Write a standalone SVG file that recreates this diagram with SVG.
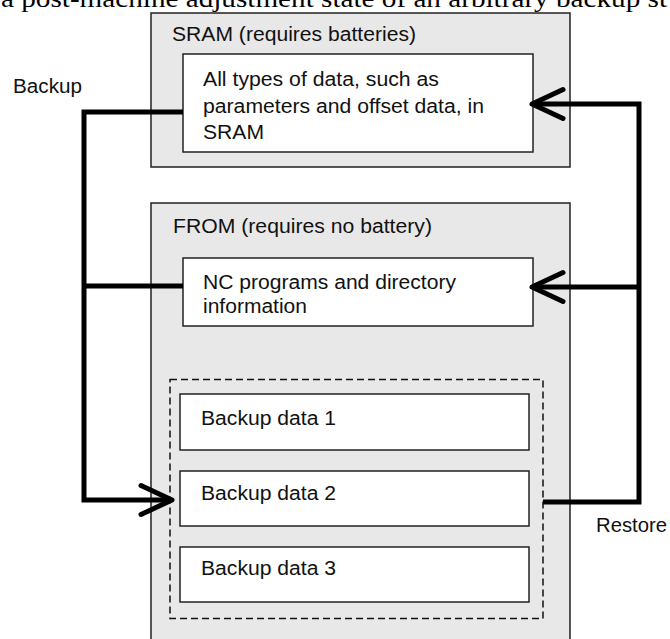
<svg xmlns="http://www.w3.org/2000/svg" width="670" height="639" viewBox="0 0 670 639">
<style>
  .outer { fill: #e8e8e8; stroke: #222; stroke-width: 1.5; }
  .inner { fill: #ffffff; stroke: #222; stroke-width: 1.5; }
  .dash { fill: none; stroke: #111; stroke-width: 1.5; stroke-dasharray: 7 4; }
  .t { font-family: "Liberation Sans", Arial, sans-serif; font-size: 19.5px; fill: #111; }
  .title { font-family: "Liberation Serif", "Times New Roman", serif; font-size: 26px; fill: #000; }
  .conn { fill: none; stroke: #000; stroke-width: 5; stroke-linejoin: miter; }
</style>
<defs>
  <marker id="open" markerUnits="userSpaceOnUse" markerWidth="44" markerHeight="44" viewBox="-38 -22 44 44" refX="-4" refY="0" orient="auto" overflow="visible">
    <path d="M-31,-14.5 L0,0 L-31,14.5" fill="none" stroke="#000" stroke-width="5" stroke-linejoin="round" stroke-linecap="round"/>
  </marker>
</defs>

<text class="title" x="1" y="7" textLength="666" lengthAdjust="spacingAndGlyphs">a post-machine adjustment state of an arbitrary backup st</text>

<g id="sram">
  <rect class="outer" x="151" y="13" width="419" height="154"/>
  <text class="t" x="172" y="41" textLength="244" lengthAdjust="spacingAndGlyphs">SRAM (requires batteries)</text>
</g>
<g id="sram-data">
  <rect class="inner" x="183" y="54" width="350" height="98"/>
  <text class="t" x="203" y="86" textLength="236" lengthAdjust="spacingAndGlyphs">All types of data, such as</text>
  <text class="t" x="203" y="112.5" textLength="281" lengthAdjust="spacingAndGlyphs">parameters and offset data, in</text>
  <text class="t" x="203" y="139" textLength="61" lengthAdjust="spacingAndGlyphs">SRAM</text>
</g>

<g id="from">
  <rect class="outer" x="151" y="203" width="419" height="450"/>
  <text class="t" x="173" y="233" textLength="259" lengthAdjust="spacingAndGlyphs">FROM (requires no battery)</text>
</g>
<g id="nc-programs">
  <rect class="inner" x="183" y="258" width="350" height="68"/>
  <text class="t" x="203" y="289" textLength="253" lengthAdjust="spacingAndGlyphs">NC programs and directory</text>
  <text class="t" x="203" y="313" textLength="104" lengthAdjust="spacingAndGlyphs">information</text>
</g>

<g id="backup-area">
  <rect class="dash" x="170" y="379.5" width="373" height="239"/>
</g>
<g id="backup1">
  <rect class="inner" x="180" y="394" width="349" height="56"/>
  <text class="t" x="201" y="425" textLength="135" lengthAdjust="spacingAndGlyphs">Backup data 1</text>
</g>
<g id="backup2">
  <rect class="inner" x="180" y="471" width="349" height="55"/>
  <text class="t" x="201" y="500" textLength="135" lengthAdjust="spacingAndGlyphs">Backup data 2</text>
</g>
<g id="backup3">
  <rect class="inner" x="180" y="547" width="349" height="55"/>
  <text class="t" x="201" y="575" textLength="135" lengthAdjust="spacingAndGlyphs">Backup data 3</text>
</g>

<g id="connectors">
  <path class="conn" d="M183,112 H84 V500 H168" marker-end="url(#open)"/>
  <path class="conn" d="M183,286 H84"/>
  <path class="conn" d="M543,502 H639 V104 H536" marker-end="url(#open)"/>
  <path class="conn" d="M639,287 H536" marker-end="url(#open)"/>
  <text class="t" x="13" y="93" textLength="69" lengthAdjust="spacingAndGlyphs">Backup</text>
  <text class="t" x="596" y="532" textLength="71" lengthAdjust="spacingAndGlyphs">Restore</text>
</g>
</svg>
